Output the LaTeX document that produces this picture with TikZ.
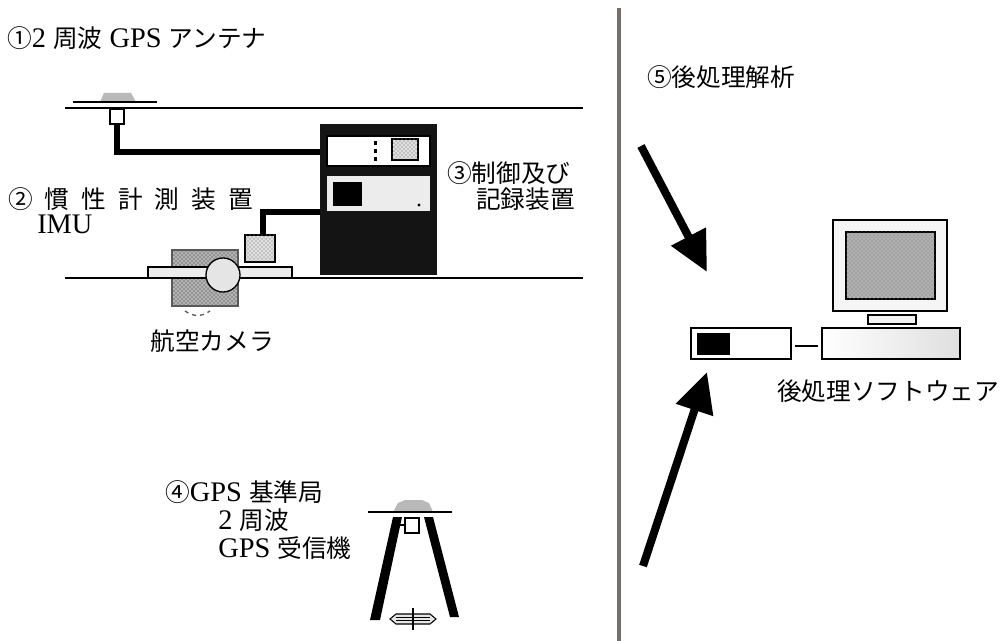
\documentclass[tikz,border=0pt]{standalone}
\usepackage{fontspec}
\setmainfont{Liberation Serif}[Scale=1.15]
\newfontfamily\jp{Noto Sans CJK JP}
\usepackage{tikz}
\usetikzlibrary{patterns,arrows.meta}
\definecolor{divider}{RGB}{118,108,104}
\newcommand{\ja}[1]{{\jp #1}}

\begin{document}
\begin{tikzpicture}[x=0.75pt,y=-0.75pt]
\tikzset{txt/.style = {anchor=west,inner sep=0pt,font=\fontsize{18.5}{20}\selectfont}}
\tikzset{cable/.style = {line width=3.8pt}}
\tikzset{hull/.style = {line width=1.1pt}}
\tikzset{part/.style = {draw,line width=1pt}}
\tikzset{stipple/.style = {part,fill=gray!25,postaction={pattern=crosshatch dots,pattern color=gray!80!black}}}
\tikzset{flow/.style = {line width=6pt,-{Triangle[length=30pt,width=28pt]}}}
\tikzset{leg/.style = {fill=black}}
\useasboundingbox (0,0) rectangle (1005,641);
% divider
\draw[divider,line width=3pt] (619,8) -- (619,641);
% aircraft hull
\draw[hull] (65,108) -- (583,108);
\draw[hull] (65,278) -- (583,278);
% antenna
\fill[gray!55] (100,102) -- (104,93) -- (131,93) -- (136,102) -- cycle;
\draw[line width=2.2pt] (73,102) -- (157,102);
\draw[part,fill=white] (110,109) rectangle (124,124);
\coordinate (plug) at (117,124);
% control and recording unit
\fill[black!92] (320,124) rectangle (437,275);
\draw[part,fill=white] (327,136) rectangle (430,166);
\foreach \y in {141,149,157}
  \fill (374,\y) rectangle (377,\y+4);
\draw[stipple] (392,139) rectangle (418,160);
\fill[gray!15] (327,176) rectangle (430,211);
\fill[black] (333,182) rectangle (362,206);
\fill[black] (419,205) circle (1.6);
\coordinate (ctrlA) at (320,152);
\coordinate (ctrlB) at (320,212);
% IMU
\draw[stipple] (245,235) rectangle (275,262);
\coordinate (imu) at (263,235);
% cables
\draw[cable] (plug) |- (ctrlA);
\draw[cable] (imu) |- (ctrlB);
% aerial camera
\fill[gray!60,postaction={pattern=crosshatch dots,pattern color=black!80}] (172,250) rectangle (238,306);
\draw[gray!70!black,line width=0.8pt] (172,250) rectangle (238,306);
\draw[part,fill=gray!15] (148,267) rectangle (292,278);
\draw[part,fill=gray!20] (223,275) circle (17);
\draw[gray!70!black,line width=1pt,dashed] (185,311) .. controls (194,317) and (201,317) .. (210,311);
% reference station tripod
\fill[gray!55] (393,512) -- (398,503) -- (405,500) -- (422,500) -- (429,503) -- (433,512) -- cycle;
\draw[line width=2.2pt] (368,512) -- (452,512);
\fill[leg] (393,517) -- (402,517) -- (380,620) -- (370,620) -- cycle;
\fill[leg] (424,517) -- (433,517) -- (459,617) -- (450,617) -- cycle;
\draw[part,fill=white] (405,518) rectangle (419,533);
\draw[line width=0.8pt] (400,525) -- (405,525);
% plumb bob
\draw[line width=0.8pt,fill=gray!20] (390,619) -- (396,614) -- (430,614) -- (436,619) -- (430,624) -- (396,624) -- cycle;
\draw[line width=0.5pt] (396,617.5) -- (430,617.5) (396,620.5) -- (430,620.5);
\draw[line width=1pt] (413,608) -- (413,630);
% computer
\draw[part,fill=gray!8] (833,220) rectangle (947,311);
\draw[part,fill=gray!60,postaction={pattern=crosshatch dots,pattern color=gray!85!black}] (846,232) rectangle (935,299);
\draw[part,fill=gray!10] (868,315) rectangle (916,324);
\draw[part,left color=white,right color=gray!25] (822,328) rectangle (960,359);
\draw[part,fill=white] (691,328) rectangle (791,359);
\fill[black] (697,333) rectangle (730,355);
\coordinate (drive) at (795,346);
\coordinate (cpu) at (818,346);
\draw[line width=1pt] (drive) -- (cpu);
% arrows
\coordinate (inA) at (641,146);
\coordinate (outA) at (707,272);
\coordinate (inB) at (643,566);
\coordinate (outB) at (707,372);
\draw[flow] (inA) -- (outA);
\draw[flow] (inB) -- (outB);
% labels
\node[txt] (antenna) at (7,38) {\ja{①}2 \ja{周波} GPS \ja{アンテナ}};
\node[txt] (imulbl) at (8,199) {\ja{②\hspace{9pt}慣\hspace{9pt}性\hspace{9pt}計\hspace{9pt}測\hspace{9pt}装\hspace{9pt}置}};
\node[txt] (imuname) at (37,224) {IMU};
\node[txt] (ctrl1) at (447,173) {\ja{③制御及び}};
\node[txt] (ctrl2) at (476,199) {\ja{記録装置}};
\node[txt,anchor=center] (camera) at (212,341) {\ja{航空カメラ}};
\node[txt] (base1) at (165,492) {\ja{④}GPS \ja{基準局}};
\node[txt] (base2) at (218,520) {2 \ja{周波}};
\node[txt] (base3) at (218,548) {GPS \ja{受信機}};
\node[txt] (post) at (647,77) {\ja{⑤後処理解析}};
\node[txt] (soft) at (777,391) {\ja{後処理ソフトウェア}};
\end{tikzpicture}
\end{document}
